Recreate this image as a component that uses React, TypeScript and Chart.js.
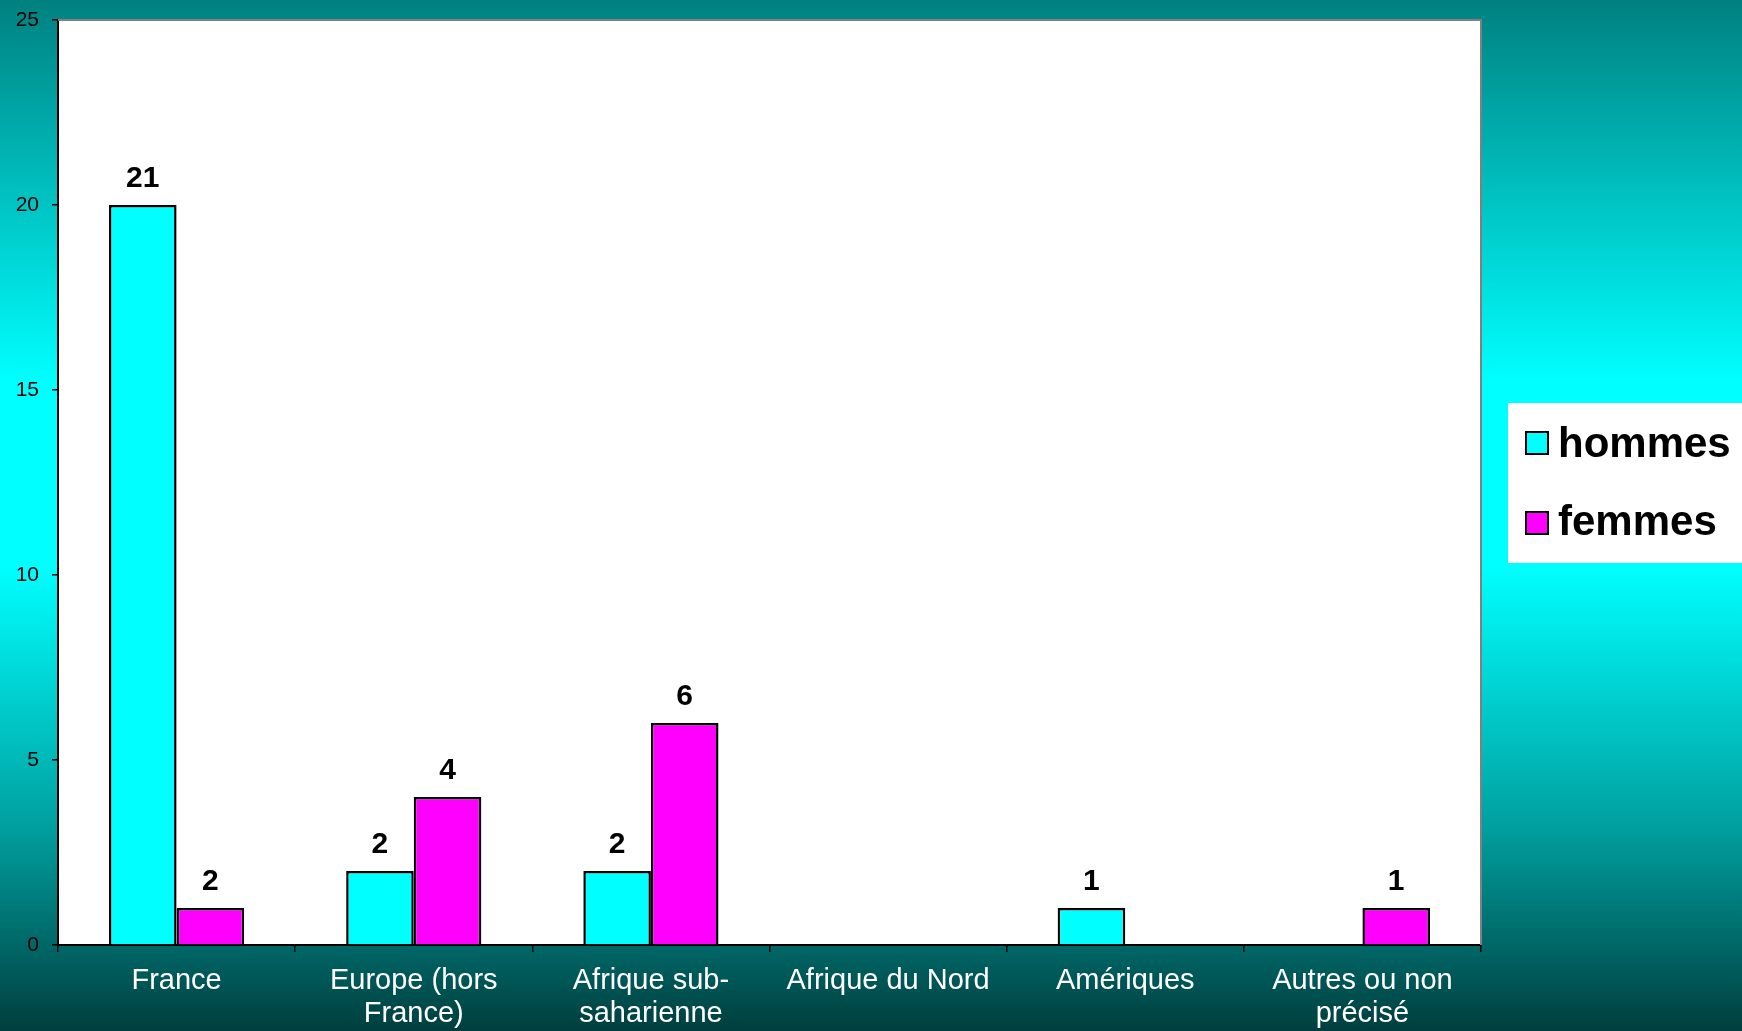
import React, { useEffect, useRef } from 'react';
import { Chart, registerables } from 'chart.js';

Chart.register(...registerables);

const categories: string[][] = [
  ['France'],
  ['Europe (hors', 'France)'],
  ['Afrique sub-', 'saharienne'],
  ['Afrique du Nord'],
  ['Amériques'],
  ['Autres ou non', 'précisé'],
];
const seriesNames = ['hommes', 'femmes'];
const hommesValues: (number | null)[] = [20, 2, 2, null, 1, null];
const femmesValues: (number | null)[] = [1, 4, 6, null, null, 1];
const hommesLabels = ['21', '2', '2', '', '1', ''];
const femmesLabels = ['2', '4', '6', '', '', '1'];
const yTickMin = 0;
const yTickMax = 25;
const yTickStep = 5;

const seriesColors = ['#00FFFF', '#FF00FF'];
const FONT = '"Liberation Sans", Arial, Helvetica, sans-serif';
const W = 1742;
const H = 1031;

const backgroundPlugin = {
  id: 'bgPlugin',
  beforeDraw(chart: any) {
    const { ctx, chartArea } = chart;
    ctx.save();
    const g = ctx.createLinearGradient(0, 0, 0, H);
    g.addColorStop(0, 'rgb(0,128,128)');
    g.addColorStop(0.37, 'rgb(0,255,255)');
    g.addColorStop(0.55, 'rgb(0,255,255)');
    g.addColorStop(0.8, 'rgb(0,160,160)');
    g.addColorStop(1, 'rgb(0,62,62)');
    ctx.fillStyle = g;
    ctx.fillRect(0, 0, W, H);
    ctx.fillStyle = '#FFFFFF';
    ctx.fillRect(chartArea.left, chartArea.top, chartArea.right - chartArea.left, chartArea.bottom - chartArea.top);
    ctx.restore();
  },
};

const decorPlugin = {
  id: 'decorPlugin',
  afterDatasetsDraw(chart: any) {
    const { ctx, chartArea } = chart;
    ctx.save();
    ctx.strokeStyle = '#808080';
    ctx.lineWidth = 2;
    ctx.beginPath();
    ctx.moveTo(chartArea.left, chartArea.top);
    ctx.lineTo(chartArea.right, chartArea.top);
    ctx.lineTo(chartArea.right, chartArea.bottom);
    ctx.stroke();

    ctx.font = `bold 30px ${FONT}`;
    ctx.fillStyle = '#000000';
    ctx.textAlign = 'center';
    ctx.textBaseline = 'alphabetic';
    [hommesLabels, femmesLabels].forEach((labels, di) => {
      const meta = chart.getDatasetMeta(di);
      meta.data.forEach((el: any, i: number) => {
        const v = chart.data.datasets[di].data[i];
        if (v == null || !labels[i]) return;
        ctx.fillText(labels[i], el.x, el.y - 18);
      });
    });
    ctx.restore();
  },
  afterDraw(chart: any) {
    const { ctx } = chart;
    ctx.save();
    ctx.fillStyle = '#FFFFFF';
    ctx.fillRect(1508, 403, W - 1508, 160);
    const items = [
      { y: 432, base: 457 },
      { y: 512, base: 535 },
    ];
    ctx.font = `bold 42px ${FONT}`;
    ctx.textAlign = 'left';
    ctx.textBaseline = 'alphabetic';
    items.forEach((it, i) => {
      ctx.fillStyle = seriesColors[i];
      ctx.fillRect(1526, it.y, 22, 22);
      ctx.strokeStyle = '#000000';
      ctx.lineWidth = 2;
      ctx.strokeRect(1526, it.y, 22, 22);
      ctx.fillStyle = '#000000';
      ctx.fillText(seriesNames[i], 1558, it.base);
    });
    ctx.restore();
  },
};

export default function App() {
  const canvasRef = useRef<HTMLCanvasElement | null>(null);

  useEffect(() => {
    document.body.style.margin = '0';
    document.body.style.overflow = 'hidden';
    const canvas = canvasRef.current;
    if (!canvas) return;
    const chart = new Chart(canvas, {
      type: 'bar',
      data: {
        labels: categories,
        datasets: [
          {
            label: seriesNames[0],
            data: hommesValues,
            backgroundColor: seriesColors[0],
            borderColor: '#000000',
            borderWidth: 2.5,
          },
          {
            label: seriesNames[1],
            data: femmesValues,
            backgroundColor: seriesColors[1],
            borderColor: '#000000',
            borderWidth: 2.5,
          },
        ],
      },
      options: {
        animation: false,
        responsive: false,
        devicePixelRatio: 1,
        layout: { padding: { top: 20, right: W - 1481, left: 0, bottom: 0 } },
        datasets: {
          bar: { categoryPercentage: 0.57, barPercentage: 1.0 },
        },
        plugins: {
          legend: { display: false },
          tooltip: { enabled: false },
        },
        scales: {
          x: {
            offset: true,
            grid: {
              display: true,
              offset: true,
              drawOnChartArea: false,
              drawTicks: true,
              tickLength: 7,
              color: '#000000',
              lineWidth: 1.5,
            },
            border: { display: true, color: '#000000', width: 2 },
            ticks: {
              color: '#FFFFFF',
              font: { family: FONT, size: 29, lineHeight: 1.12 },
              padding: 13,
              maxRotation: 0,
              autoSkip: false,
            },
            afterFit(scale: any) {
              scale.height = H - 945;
              scale.paddingLeft = 0;
              scale.paddingRight = 0;
            },
          },
          y: {
            min: yTickMin,
            max: yTickMax,
            grid: {
              display: true,
              drawOnChartArea: false,
              drawTicks: true,
              tickLength: 6,
              color: '#000000',
              lineWidth: 1.5,
            },
            border: { display: true, color: '#000000', width: 2 },
            ticks: {
              stepSize: yTickStep,
              color: '#000000',
              font: { family: FONT, size: 21 },
              padding: 13,
            },
            afterFit(scale: any) {
              scale.width = 58;
              scale.paddingTop = 0;
              scale.paddingBottom = 0;
            },
          },
        },
      },
      plugins: [backgroundPlugin, decorPlugin],
    } as any);
    return () => chart.destroy();
  }, []);

  return (
    <div style={{ width: W, height: H, position: 'relative' }}>
      <canvas ref={canvasRef} width={W} height={H} style={{ display: 'block', width: W, height: H }} />
    </div>
  );
}
